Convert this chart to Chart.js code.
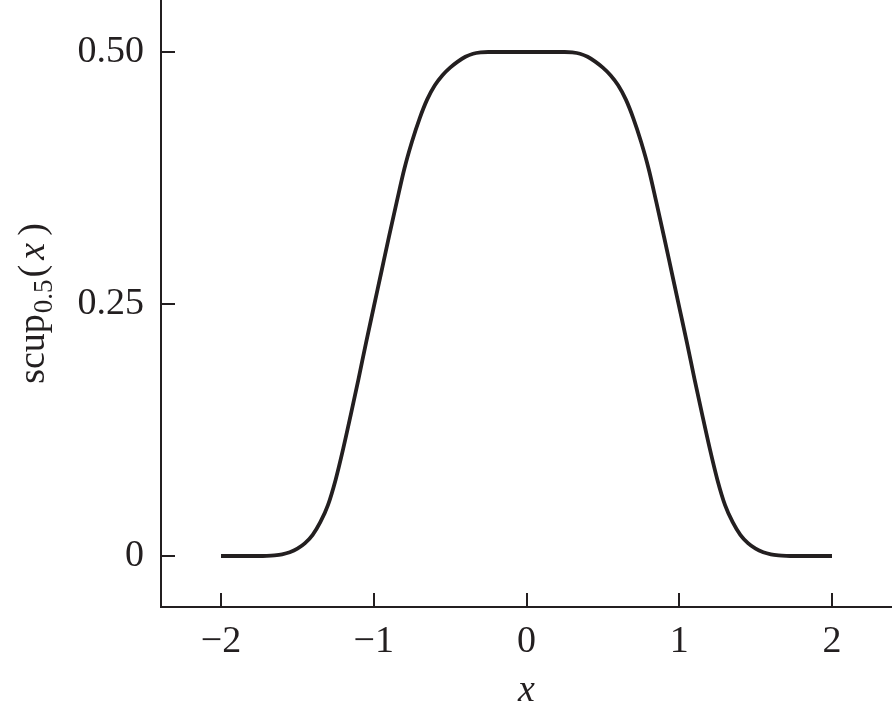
<!DOCTYPE html>
<html>
<head>
<meta charset="utf-8">
<script src="https://cdn.jsdelivr.net/npm/chart.js@4.4.1/dist/chart.umd.min.js"></script>
<style>
  html, body { margin: 0; padding: 0; background: #fff; }
  canvas { display: block; }
</style>
</head>
<body>
<canvas id="grafica" width="892" height="716"></canvas>
<script>
// valores
const xValues = [-2, -1.9, -1.8, -1.75, -1.7, -1.65, -1.6, -1.55, -1.5, -1.45, -1.4, -1.35, -1.3, -1.25, -1.2, -1.15, -1.1, -1.05, -1,
  -0.95, -0.9, -0.85, -0.8, -0.75, -0.7, -0.65, -0.6, -0.55, -0.5, -0.45, -0.4, -0.35, -0.3, -0.25, -0.2, -0.1, 0,
  0.1, 0.2, 0.25, 0.3, 0.35, 0.4, 0.45, 0.5, 0.55, 0.6, 0.65, 0.7, 0.75, 0.8, 0.85, 0.9, 0.95,
  1, 1.05, 1.1, 1.15, 1.2, 1.25, 1.3, 1.35, 1.4, 1.45, 1.5, 1.55, 1.6, 1.65, 1.7, 1.75, 1.8, 1.9, 2];
const scupValues = [0, 0, 0, 0, 0.0002, 0.0007, 0.0017, 0.0037, 0.0072, 0.0127, 0.021, 0.0335, 0.0505, 0.0755, 0.1065, 0.1405, 0.1755, 0.212, 0.247,
  0.282, 0.317, 0.351, 0.384, 0.411, 0.434, 0.453, 0.467, 0.477, 0.4845, 0.4905, 0.4953, 0.4983, 0.4996, 0.5, 0.5, 0.5, 0.5,
  0.5, 0.5, 0.5, 0.4996, 0.4983, 0.4953, 0.4905, 0.4845, 0.477, 0.467, 0.453, 0.434, 0.411, 0.384, 0.351, 0.317, 0.282,
  0.247, 0.212, 0.1755, 0.1405, 0.1065, 0.0755, 0.0505, 0.0335, 0.021, 0.0127, 0.0072, 0.0037, 0.0017, 0.0007, 0.0002, 0, 0, 0, 0];

const xTicks = [-2, -1, 0, 1, 2];
const yTicks = [0, 0.25, 0.5];
const yTickLabels = ['0', '0.25', '0.50'];

const ink = '#231f20';
const serif = 'Liberation Serif, Times New Roman, serif';

// marcas de graduacion hacia adentro + titulo del eje y con subindice
const extras = {
  id: 'extras',
  afterDraw(chart) {
    const ctx = chart.ctx;
    const area = chart.chartArea;
    const sx = chart.scales.x;
    const sy = chart.scales.y;
    ctx.save();
    ctx.strokeStyle = ink;
    ctx.lineWidth = 2;
    ctx.beginPath();
    xTicks.forEach(v => {
      const px = Math.round(sx.getPixelForValue(v));
      ctx.moveTo(px, area.bottom);
      ctx.lineTo(px, area.bottom - 14);
    });
    yTicks.forEach(v => {
      const py = Math.round(sy.getPixelForValue(v));
      ctx.moveTo(area.left, py);
      ctx.lineTo(area.left + 14, py);
    });
    ctx.stroke();

    // titulo: scup_{0.5}(x)
    const partes = [
      { t: 'scup', f: '38px ' + serif, dy: 0, gap: 1 },
      { t: '0.5', f: '27px ' + serif, dy: 8, gap: 2 },
      { t: '(', f: '38px ' + serif, dy: 0, gap: 5 },
      { t: 'x', f: 'italic 38px ' + serif, dy: 0, gap: 7 },
      { t: ')', f: '38px ' + serif, dy: 0, gap: 0 }
    ];
    let total = 0;
    partes.forEach(p => { ctx.font = p.f; p.w = ctx.measureText(p.t).width; total += p.w + p.gap; });
    ctx.translate(44, (area.top + area.bottom) / 2);
    ctx.rotate(-Math.PI / 2);
    ctx.fillStyle = ink;
    ctx.textBaseline = 'alphabetic';
    ctx.textAlign = 'left';
    let x = -total / 2;
    partes.forEach(p => {
      ctx.font = p.f;
      ctx.fillText(p.t, x, p.dy);
      x += p.w + p.gap;
    });
    ctx.restore();
  }
};

const ctx = document.getElementById('grafica').getContext('2d');
const grafica = new Chart(ctx, {
  type: 'line',
  data: {
    datasets: [{
      data: xValues.map((x, i) => ({ x: x, y: scupValues[i] })),
      borderColor: ink,
      borderWidth: 3.8,
      pointRadius: 0,
      fill: false,
      cubicInterpolationMode: 'monotone'
    }]
  },
  options: {
    responsive: false,
    animation: false,
    layout: { padding: 0 },
    plugins: { legend: { display: false }, tooltip: { enabled: false } },
    scales: {
      x: {
        type: 'linear',
        min: -2.393,
        max: 2.393,
        afterBuildTicks: s => { s.ticks = xTicks.map(v => ({ value: v })); },
        afterFit: s => { s.height = 109; s.paddingLeft = 0; s.paddingRight = 0; },
        grid: { display: false, drawTicks: false },
        border: { display: true, color: ink, width: 2 },
        ticks: {
          padding: 12,
          color: ink,
          font: { family: serif, size: 38 },
          callback: v => (v < 0 ? '\u2212' + Math.abs(v) : String(v))
        },
        title: {
          display: true,
          text: 'x',
          color: ink,
          font: { family: serif, size: 38, style: 'italic' },
          padding: { top: 0, bottom: 2 }
        }
      },
      y: {
        type: 'linear',
        min: -0.0506,
        max: 0.5516,
        afterBuildTicks: s => { s.ticks = yTicks.map(v => ({ value: v })); },
        afterFit: s => { s.width = 161; s.paddingTop = 0; s.paddingBottom = 0; },
        grid: { display: false, drawTicks: false },
        border: { display: true, color: ink, width: 2 },
        ticks: {
          padding: 17,
          color: ink,
          font: { family: serif, size: 38 },
          callback: (v, i) => yTickLabels[yTicks.indexOf(v)]
        }
      }
    }
  },
  plugins: [extras]
});
</script>
</body>
</html>
